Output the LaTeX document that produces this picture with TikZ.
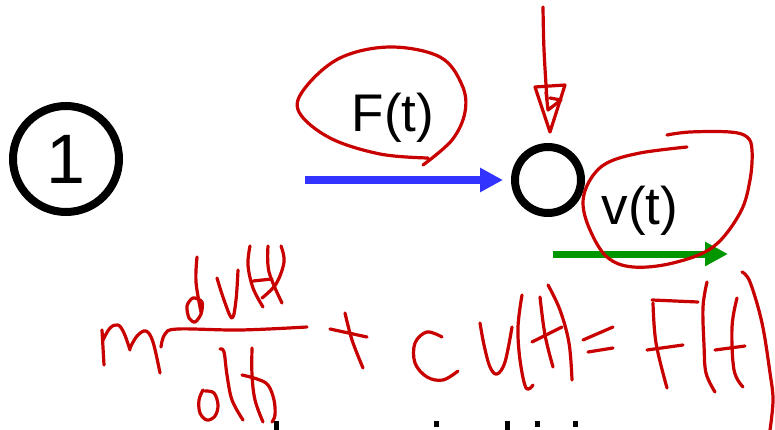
\documentclass[tikz,border=0pt]{standalone}
\usepackage{fontspec}
\setmainfont{Liberation Sans}
\usepackage{xcolor}
\usetikzlibrary{arrows.meta}
\definecolor{inkred}{RGB}{200,0,0}
\definecolor{forceblue}{RGB}{51,51,255}
\definecolor{velgreen}{RGB}{0,150,0}

\begin{document}
\begin{tikzpicture}[
      x=1pt, y=-1pt,
      ring/.style={draw, circle, line width=8pt, inner sep=0pt},
      lab/.style={font=\fontsize{53}{60}\selectfont, anchor=base, inner sep=0pt},
      ar/.style={-{Triangle[length=23pt, width=23pt]}, line width=8pt},
      ink/.style={draw=inkred, line width=3.2pt, line cap=round, line join=round},
      hand/.style={ink, smooth, tension=0.6}]
    \useasboundingbox (0,0) rectangle (775,430);
    \node[ring, minimum size=106pt, font=\fontsize{70}{80}\selectfont] (one) at (66,159) {1};
    \node[ring, minimum size=66pt] (mass) at (548,180) {};
    \node[lab] (force) at (393,132) {F(t)};
    \node[lab] (vel)   at (640,225) {v(t)};
    \coordinate (fin)  at (305,180);
    \coordinate (vin)  at (553,254);
    \coordinate (vout) at (728,254);
    \draw[ar, forceblue, shorten >=8pt] (fin) -- (mass.west);
    \draw[ar, velgreen, line width=7pt] (vin) -- (vout);
    % red pen marks
    \draw[ink] plot[hand] coordinates {(428,158) (380,154) (330,138) (299,112) (305,88) (340,58) (390,47) (440,57) (462,85) (465,112) (452,140) (423,165)};
    \draw[ink] plot[hand] coordinates {(687,147) (640,153) (607,163) (590,180) (583,203) (590,230) (607,257) (633,267) (673,263) (713,247) (740,213) (750,180) (752,150) (747,137) (730,132) (690,132) (667,135)};
    \draw[ink] plot[hand] coordinates {(543,7) (544,50) (547,100)};
    \draw[ink] (535,87) -- (550,132) -- (565,85) -- cycle;
    \draw[ink] (546,92) -- (548,110) -- (561,100) -- (550,98);
    % m dv(t)/dt + c v(t) = F(t)
    \draw[ink] (102,330) -- (104,365);
    \draw[ink] plot[hand] coordinates {(103,340) (110,328) (118,325) (124,333) (130,350)};
    \draw[ink] plot[hand] coordinates {(130,348) (137,336) (146,331) (153,342) (160,373)};
    \draw[ink] plot[hand] coordinates {(161,347) (165,334) (178,329) (240,330) (307,327)};
    \draw[ink] plot[smooth cycle] coordinates {(193,298) (187,306) (189,318) (195,322) (201,314) (202,302)};
    \draw[ink] plot[hand] coordinates {(197,257) (196,282) (201,312)};
    \draw[ink] plot[hand] coordinates {(217,278) (224,300) (232,318) (236,300) (238,270)};
    \draw[ink] plot[hand] coordinates {(250,246) (248,265) (253,288) (263,307)};
    \draw[ink] plot[hand] coordinates {(268,246) (269,272) (282,303)};
    \draw[ink] (253,281) -- (272,279);
    \draw[ink] plot[hand] coordinates {(281,246) (284,262) (276,284) (262,298)};
    \draw[ink] plot[hand] coordinates {(203,390) (199,400) (200,413) (207,420) (215,416) (218,405) (214,393) (205,391)};
    \draw[ink] plot[hand] coordinates {(220,349) (224,352) (227,375) (232,400) (243,420)};
    \draw[ink] plot[hand] coordinates {(252,348) (252,375) (255,400) (263,422)};
    \draw[ink] plot[hand] coordinates {(242,375) (257,379) (268,385) (274,400) (275,415) (272,422)};
    \draw[ink] (330,329) -- (367,337);
    \draw[ink] plot[hand] coordinates {(345,313) (352,340) (363,368)};
    \draw[ink] plot[hand] coordinates {(442,337) (427,332) (415,343) (415,363) (427,377) (443,380) (458,371)};
    \draw[ink] plot[hand] coordinates {(480,323) (484,345) (490,367) (497,374) (505,362) (512,327)};
    \draw[ink] plot[hand] coordinates {(522,295) (518,327) (520,360) (526,388) (533,385)};
    \draw[ink] plot[hand] coordinates {(540,297) (545,335) (553,367)};
    \draw[ink] (532,342) -- (562,327);
    \draw[ink] plot[hand] coordinates {(548,285) (560,310) (569,343) (572,380)};
    \draw[ink] (583,340) -- (613,327);
    \draw[ink] (588,352) -- (613,348);
    \draw[ink] plot[hand] coordinates {(653,303) (656,343) (667,388)};
    \draw[ink] (652,300) -- (698,302);
    \draw[ink] (647,350) -- (683,345);
    \draw[ink] plot[hand] coordinates {(707,282) (703,307) (704,345) (706,373) (715,392)};
    \draw[ink] plot[hand] coordinates {(737,298) (732,327) (734,370) (743,387)};
    \draw[ink] (715,350) -- (745,346);
    \draw[ink] plot[hand] coordinates {(742,272) (750,282) (762,323) (770,373) (773,400) (770,430)};
    % cut-off marks at the bottom edge
    \fill (274,421) rectangle (279,430);
    \fill (434,421) rectangle (439,427);
    \fill (505,421) rectangle (510,430);
    \fill (535,421) rectangle (540,427);
    \fill (573,421) rectangle (578,427);
  \end{tikzpicture}
\end{document}
